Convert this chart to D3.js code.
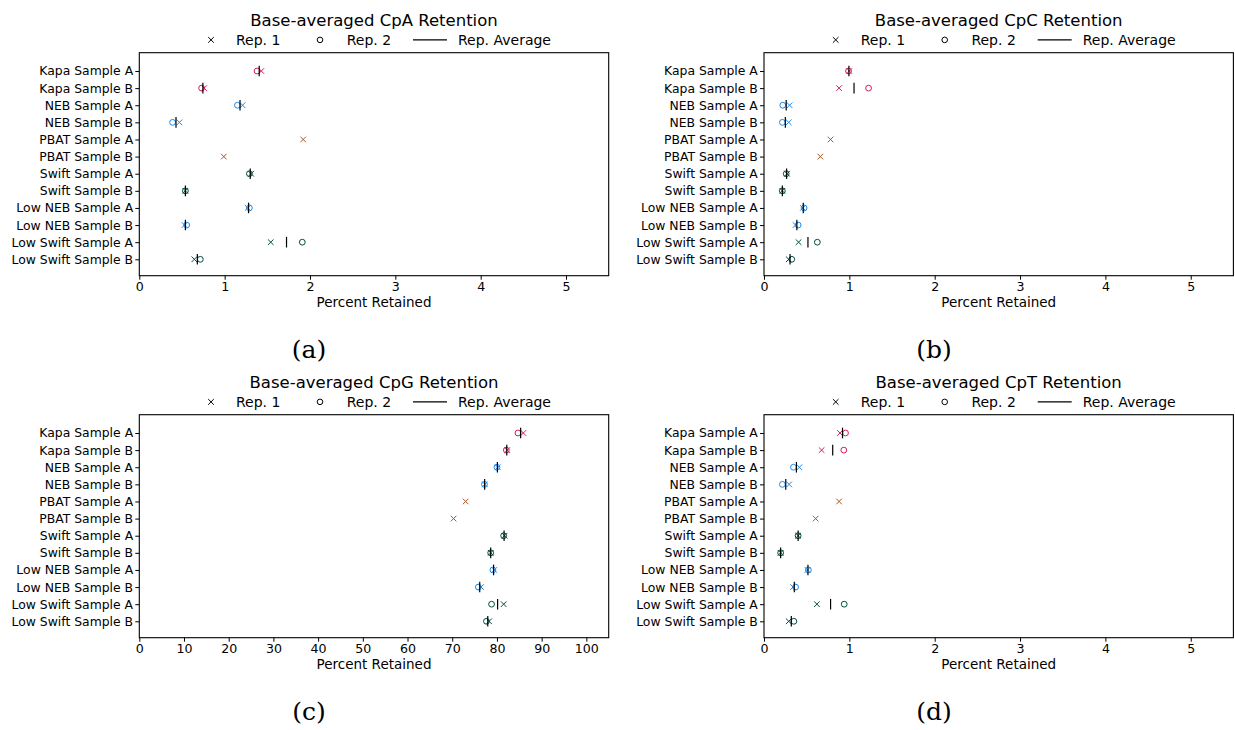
<!DOCTYPE html>
<html>
<head>
<meta charset="utf-8">
<script src="https://cdn.jsdelivr.net/npm/d3@7"></script>
<style>
  html, body { margin: 0; padding: 0; background: #fff; }
  svg { display: block; font-family: "DejaVu Sans", sans-serif; }
</style>
</head>
<body>
<svg id="fig" width="1235" height="730"></svg>
<script>
// Library preparations, one row per sample
const samples = [
  "Kapa Sample A", "Kapa Sample B", "NEB Sample A", "NEB Sample B",
  "PBAT Sample A", "PBAT Sample B", "Swift Sample A", "Swift Sample B",
  "Low NEB Sample A", "Low NEB Sample B", "Low Swift Sample A", "Low Swift Sample B"
];
const sampleColors = [
  "#D81B60", "#D81B60", "#1E88E5", "#1E88E5",
  "#A9542C", "#A9542C", "#004D40", "#004D40",
  "#1E88E5", "#1E88E5", "#004D40", "#004D40"
];

// Percent retained per replicate (null = replicate not available)
const cpaRep1 = [1.43, 0.76, 1.21, 0.47, 1.92, 0.99, 1.31, 0.54, 1.27, 0.53, 1.54, 0.645];
const cpaRep2 = [1.38, 0.73, 1.15, 0.39, null, null, 1.29, 0.54, 1.29, 0.555, 1.91, 0.715];
const cpaAvg  = [1.405, 0.745, 1.18, 0.43, null, null, 1.30, 0.54, 1.28, 0.54, 1.725, 0.68];

const cpcRep1 = [1.0, 0.88, 0.30, 0.29, 0.78, 0.66, 0.27, 0.215, 0.455, 0.37, 0.405, 0.29];
const cpcRep2 = [0.99, 1.225, 0.22, 0.215, null, null, 0.26, 0.215, 0.47, 0.40, 0.625, 0.325];
const cpcAvg  = [0.995, 1.055, 0.26, 0.25, null, null, 0.265, 0.215, 0.46, 0.385, 0.515, 0.305];

const cpgRep1 = [85.9, 82.3, 80.2, 77.3, 73.0, 70.3, 81.7, 78.6, 79.4, 76.45, 81.5, 78.25];
const cpgRep2 = [84.7, 82.1, 80.0, 77.2, null, null, 81.5, 78.6, 79.1, 75.85, 78.8, 77.65];
const cpgAvg  = [85.3, 82.2, 80.1, 77.25, null, null, 81.6, 78.6, 79.25, 76.15, 80.15, 77.95];

const cptRep1 = [0.89, 0.675, 0.415, 0.295, 0.88, 0.605, 0.40, 0.195, 0.51, 0.34, 0.62, 0.29];
const cptRep2 = [0.955, 0.935, 0.345, 0.215, null, null, 0.40, 0.195, 0.52, 0.37, 0.94, 0.35];
const cptAvg  = [0.92, 0.805, 0.38, 0.255, null, null, 0.40, 0.195, 0.515, 0.355, 0.78, 0.32];

const smallTicks = [0, 1, 2, 3, 4, 5];
const cpgTicks = [0, 10, 20, 30, 40, 50, 60, 70, 80, 90, 100];

const legendLabels = ["Rep. 1", "Rep. 2", "Rep. Average"];
const xLabel = "Percent Retained";

// Panel definitions built from the arrays above
const panels = [
  { title: "Base-averaged CpA Retention", tag: "(a)", rep1: cpaRep1, rep2: cpaRep2, avg: cpaAvg, xmax: 5.5, ticks: smallTicks, col: 0, row: 0 },
  { title: "Base-averaged CpC Retention", tag: "(b)", rep1: cpcRep1, rep2: cpcRep2, avg: cpcAvg, xmax: 5.5, ticks: smallTicks, col: 1, row: 0 },
  { title: "Base-averaged CpG Retention", tag: "(c)", rep1: cpgRep1, rep2: cpgRep2, avg: cpgAvg, xmax: 105, ticks: cpgTicks, col: 0, row: 1 },
  { title: "Base-averaged CpT Retention", tag: "(d)", rep1: cptRep1, rep2: cptRep2, avg: cptAvg, xmax: 5.5, ticks: smallTicks, col: 1, row: 1 }
];

const svg = d3.select("#fig");

const plotW = 469.4, plotH = 223;
const lefts = [139.3, 764];
const tops = [52.7, 414.7];
const tagCenters = [309, 934];

function crossPath(cx, cy, s) {
  return `M${cx - s},${cy - s}L${cx + s},${cy + s}M${cx - s},${cy + s}L${cx + s},${cy - s}`;
}

panels.forEach(p => {
  const L = lefts[p.col], T = tops[p.row];
  const g = svg.append("g").attr("transform", `translate(${L},${T})`);

  const x = d3.scaleLinear().domain([0, p.xmax]).range([0, plotW]);
  const y = d3.scalePoint().domain(samples).range([18.3, plotH - 16.4]);

  // title
  g.append("text")
    .attr("x", plotW / 2).attr("y", -26.7)
    .attr("text-anchor", "middle")
    .style("font-size", "16.5px")
    .text(p.title);

  // legend above the frame
  const lg = g.append("g").attr("transform", "translate(0,-8)");
  const my = -4.8;
  lg.append("path").attr("d", crossPath(71.7, my, 2.8))
    .attr("stroke", "#000").attr("stroke-width", 1).attr("fill", "none");
  lg.append("text").attr("x", 96.7).attr("y", 0).style("font-size", "14px").text(legendLabels[0]);
  lg.append("circle").attr("cx", 180.7).attr("cy", my).attr("r", 2.8)
    .attr("stroke", "#000").attr("stroke-width", 1).attr("fill", "none");
  lg.append("text").attr("x", 207.4).attr("y", 0).style("font-size", "14px").text(legendLabels[1]);
  lg.append("line").attr("x1", 273.7).attr("x2", 307.7).attr("y1", my).attr("y2", my)
    .attr("stroke", "#000").attr("stroke-width", 1.1);
  lg.append("text").attr("x", 318.7).attr("y", 0).style("font-size", "14px").text(legendLabels[2]);

  // axes
  const xAxis = d3.axisBottom(x).tickValues(p.ticks).tickSize(4).tickPadding(2.2)
    .tickFormat(d3.format("d"));
  const gx = g.append("g").attr("transform", `translate(0,${plotH})`).call(xAxis);
  gx.select(".domain").remove();
  gx.selectAll("line").attr("stroke", "#000").attr("stroke-width", 1);
  gx.selectAll("text").style("font-size", "12.6px").attr("fill", "#000")
    .attr("font-family", "DejaVu Sans");

  const yAxis = d3.axisLeft(y).tickSize(4).tickPadding(2.2);
  const gy = g.append("g").call(yAxis);
  gy.select(".domain").remove();
  gy.selectAll("line").attr("stroke", "#000").attr("stroke-width", 1);
  gy.selectAll("text").style("font-size", "12.4px").attr("fill", "#000")
    .attr("font-family", "DejaVu Sans");

  // frame
  g.append("rect").attr("x", 0).attr("y", 0).attr("width", plotW).attr("height", plotH)
    .attr("fill", "none").attr("stroke", "#000").attr("stroke-width", 1.1);

  // x label
  g.append("text")
    .attr("x", plotW / 2).attr("y", plotH + 31)
    .attr("text-anchor", "middle")
    .style("font-size", "13.5px")
    .text(xLabel);

  // replicate 1: crosses
  const idx = d3.range(samples.length);
  g.append("g").selectAll("path")
    .data(idx.filter(i => p.rep1[i] != null))
    .join("path")
    .attr("d", i => crossPath(x(p.rep1[i]), y(samples[i]), 2.8))
    .attr("stroke", i => sampleColors[i]).attr("stroke-width", 1).attr("fill", "none");

  // replicate 2: open circles
  g.append("g").selectAll("circle")
    .data(idx.filter(i => p.rep2[i] != null))
    .join("circle")
    .attr("cx", i => x(p.rep2[i])).attr("cy", i => y(samples[i])).attr("r", 2.9)
    .attr("stroke", i => sampleColors[i]).attr("stroke-width", 1).attr("fill", "none");

  // replicate average: vertical tick
  g.append("g").selectAll("line")
    .data(idx.filter(i => p.avg[i] != null))
    .join("line")
    .attr("x1", i => x(p.avg[i])).attr("x2", i => x(p.avg[i]))
    .attr("y1", i => y(samples[i]) - 5.3).attr("y2", i => y(samples[i]) + 5.3)
    .attr("stroke", "#000").attr("stroke-width", 1.2);

  // sub-figure tag
  svg.append("text")
    .attr("x", tagCenters[p.col]).attr("y", T + plotH + 82)
    .attr("text-anchor", "middle")
    .style("font-family", "'DejaVu Serif', 'Liberation Serif', serif")
    .style("font-size", "25px")
    .text(p.tag);
});
</script>
</body>
</html>
